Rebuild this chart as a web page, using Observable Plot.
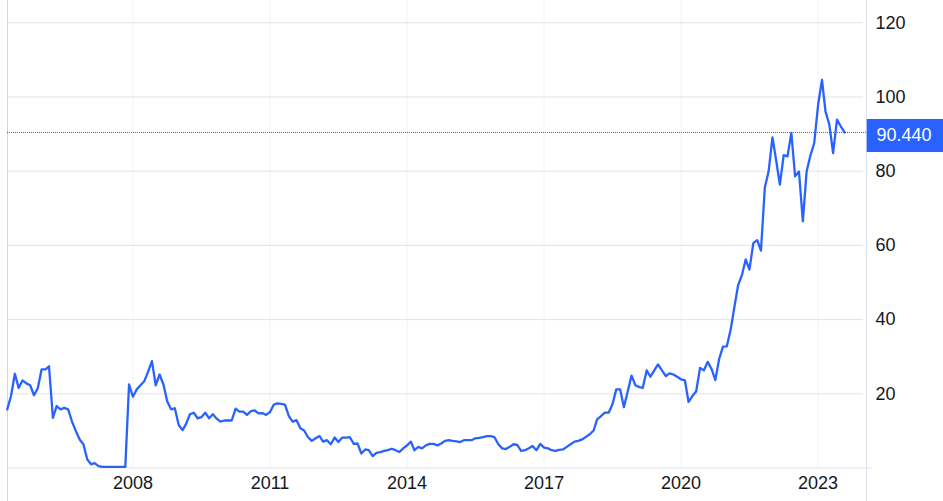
<!DOCTYPE html>
<html><head><meta charset="utf-8">
<script src="https://cdn.jsdelivr.net/npm/d3@7"></script>
<script src="https://cdn.jsdelivr.net/npm/@observablehq/plot@0.6"></script>
<style>
html,body{margin:0;padding:0;background:#fff;overflow:hidden;}
</style></head><body><div id="chart"></div>
<script>
// Monthly series, first month:
const startMonth = "2005-04";
const values2005to2007 = [15.8, 19.4, 25.4, 21.6, 23.6, 22.8, 22.3, 19.6, 21.5,
  26.6, 26.6, 27.4, 13.5, 16.7, 15.8, 16.2, 15.8, 12.5, 10.0, 7.7, 6.4,
  2.3, 1.0, 1.3, 0.5, 0.3, 0.3, 0.3, 0.3, 0.3, 0.3, 0.3, 22.5];
const values2008to2012 = [
  19.2, 21.2, 22.3, 23.4, 25.9, 28.8, 22.3, 25.2, 22.5, 18.0, 15.8, 16.1,
  11.6, 10.2, 11.9, 14.5, 14.9, 13.4, 13.7, 14.9, 13.4, 14.5, 13.3, 12.5,
  12.8, 12.8, 12.8, 16.0, 15.2, 15.2, 14.3, 15.3, 15.5, 14.7, 14.8, 14.3,
  15.1, 17.1, 17.4, 17.3, 17.1, 14.0, 12.5, 12.9, 10.7, 10.1, 8.3, 7.3,
  8.0, 8.6, 7.1, 7.5, 6.4, 8.2, 7.0, 8.2, 8.2, 8.3, 6.5, 6.6];
const values2013to2017 = [
  3.9, 5.0, 4.8, 3.2, 4.1, 4.3, 4.6, 4.8, 5.2, 4.8, 4.3, 5.3,
  6.1, 7.1, 4.8, 5.7, 5.3, 6.1, 6.5, 6.5, 6.1, 6.6, 7.3, 7.5,
  7.3, 7.2, 7.0, 7.5, 7.5, 7.5, 8.0, 8.1, 8.3, 8.6, 8.6, 8.3,
  6.4, 5.3, 5.1, 5.7, 6.4, 6.2, 4.6, 4.8, 5.3, 5.9, 4.8, 6.5,
  5.5, 5.3, 4.8, 4.6, 4.9, 5.0, 5.7, 6.4, 7.1, 7.3, 7.7, 8.4];
const values2018to2023 = [
  9.1, 10.1, 13.1, 14.0, 14.9, 14.9, 17.1, 21.2, 21.2, 16.4, 20.7, 24.9,
  22.3, 21.8, 21.6, 26.3, 24.6, 26.3, 27.9, 26.3, 24.8, 25.5, 25.2, 24.6,
  23.9, 23.6, 17.8, 19.4, 20.7, 27.0, 26.3, 28.6, 26.7, 23.7, 29.4, 32.7,
  32.8, 37.3, 43.1, 49.2, 51.9, 56.2, 53.5, 60.6, 61.4, 58.6, 75.6, 79.9,
  89.1, 82.6, 76.4, 84.3, 84.0, 90.3, 78.6, 79.9, 66.5, 79.9, 84.3, 87.6,
  97.9, 104.6, 96.1, 92.5, 84.9, 93.9, 92.1, 90.44];
const lastValue = 90.44;
const lastLabel = "90.440";
const yTicks = [20, 40, 60, 80, 100, 120];
const xTickYears = [2008, 2011, 2014, 2017, 2020, 2023];

const allValues = [...values2005to2007, ...values2008to2012, ...values2013to2017, ...values2018to2023];
const start = d3.utcParse("%Y-%m")(startMonth);
const data = allValues.map((v, i) => ({date: d3.utcMonth.offset(start, i), value: v}));
const xTicks = xTickYears.map(y => new Date(Date.UTC(y, 0, 1)));
const xDomain = [new Date(Date.UTC(2005, 3, 3)), new Date(Date.UTC(2024, 0, 23))];

const blue = "#2962FF";
const ink = "#131722";
const chart = Plot.plot({
  width: 943, height: 501,
  marginLeft: 7, marginRight: 77, marginTop: 0, marginBottom: 33.5,
  x: {type: "utc", domain: xDomain, label: null},
  y: {domain: [0, 126], label: null},
  style: {fontFamily: "'Liberation Sans', Arial, sans-serif", fontSize: "18px", color: ink, background: "white", overflow: "visible"},
  marks: [
    Plot.ruleX(xTicks, {stroke: "#f0f3fa"}),
    Plot.ruleY(yTicks, {stroke: "#e0e3eb", insetRight: 3}),
    Plot.ruleY([0], {stroke: "#e0e3eb", insetRight: -6}),
    Plot.ruleX([xDomain[0]], {stroke: "#d1d4dc", insetBottom: -34}),
    Plot.ruleX([xDomain[1]], {stroke: "#e0e3eb", insetBottom: -34}),
    Plot.ruleY([lastValue], {stroke: blue, strokeDasharray: "1,1", strokeWidth: 1}),
    Plot.lineY(data, {x: "date", y: "value", stroke: blue, strokeWidth: 2.3}),
    Plot.axisX(xTicks, {tickSize: 0, tickPadding: 8, tickFormat: "%Y", fontSize: 18, fill: ink, label: null}),
    Plot.axisY(yTicks, {anchor: "right", tickSize: 0, tickPadding: 9, fontSize: 18, fill: ink, label: null}),
    Plot.ruleY([lastValue], {stroke: blue, strokeWidth: 33, insetLeft: 859.7, insetRight: -77, dy: 3}),
    Plot.text([lastValue], {y: d => d, text: () => lastLabel, frameAnchor: "right", dx: 10, dy: 3, textAnchor: "start", fill: "white", fontSize: 18})
  ]
});
document.getElementById("chart").appendChild(chart);
</script>
</body></html>
